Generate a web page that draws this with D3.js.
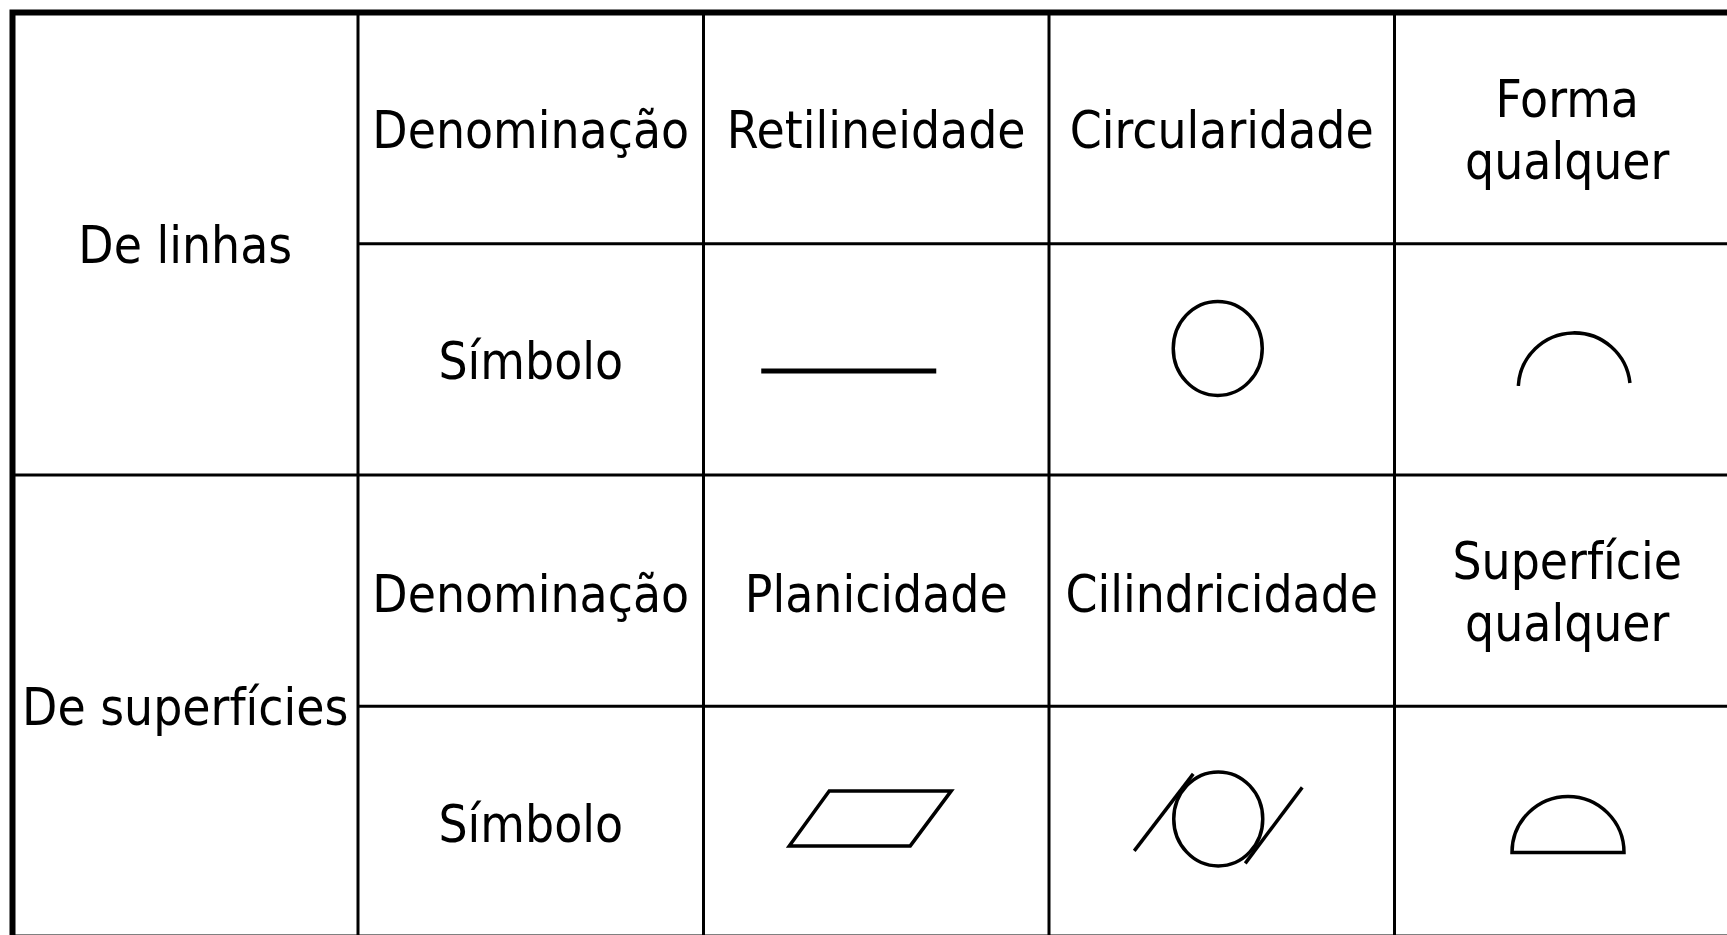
<!DOCTYPE html>
<html>
<head>
<meta charset="utf-8">
<script src="https://cdn.jsdelivr.net/npm/d3@7"></script>
<style>
  html, body { margin: 0; padding: 0; background: #fff; overflow: hidden; }
  svg { display: block; }
  text { font-family: "DejaVu Sans Condensed", "DejaVu Sans", sans-serif; font-stretch: condensed; fill: #000; }
</style>
</head>
<body>
<svg id="chart" width="1727" height="935"></svg>
<script>
// ---- data ----
const groups = ["De linhas", "De superfícies"];
const rowLabels = ["Denominação", "Símbolo"];
const namesLinhas = ["Retilineidade", "Circularidade", ["Forma", "qualquer"]];
const namesSuperficies = ["Planicidade", "Cilindricidade", ["Superfície", "qualquer"]];
const symbolsLinhas = ["retilineidade", "circularidade", "formaLinha"];
const symbolsSuperficies = ["planicidade", "cilindricidade", "formaSuperficie"];

// ---- layout ----
const W = 1727, H = 935;
const svg = d3.select("#chart");
const x = d3.scaleLinear().domain([0, 5]).range([12.5, 1740]);
const y = d3.scaleLinear().domain([0, 4]).range([12.5, 937.5]);
const cx = i => (x(i) + x(i + 1)) / 2;
const cy = j => (y(j) + y(j + 1)) / 2;
const FS = 51;
const rowDy = [19.5, 20, 21.5, 20];

svg.append("rect").attr("width", W).attr("height", H).attr("fill", "#fff");

const grid = svg.append("g").attr("stroke", "#000").attr("stroke-width", 3).attr("fill", "none");
// vertical inner lines
d3.range(1, 5).forEach(i => {
  grid.append("line").attr("x1", x(i)).attr("x2", x(i)).attr("y1", y(0)).attr("y2", y(4));
});
// horizontal inner lines
[1, 3].forEach(j => {
  grid.append("line").attr("x1", x(1)).attr("x2", x(5)).attr("y1", y(j)).attr("y2", y(j));
});
grid.append("line").attr("x1", x(0)).attr("x2", x(5)).attr("y1", y(2)).attr("y2", y(2));
// outer border
svg.append("rect").attr("x", x(0)).attr("y", y(0))
  .attr("width", x(5) - x(0)).attr("height", y(4) - y(0))
  .attr("fill", "none").attr("stroke", "#000").attr("stroke-width", 6);

const tg = svg.append("g").attr("font-size", FS).attr("text-anchor", "middle");

// group labels
groups.forEach((g, k) => {
  tg.append("text").attr("x", cx(0)).attr("y", (y(2 * k) + y(2 * k + 2)) / 2 + 19).text(g);
});
// row labels
[0, 1, 2, 3].forEach(j => {
  tg.append("text").attr("x", cx(1)).attr("y", cy(j) + rowDy[j]).text(rowLabels[j % 2]);
});
// names
[namesLinhas, namesSuperficies].forEach((arr, k) => {
  const j = 2 * k;
  arr.forEach((n, i) => {
    const t = tg.append("text").attr("x", cx(i + 2));
    if (Array.isArray(n)) {
      t.attr("y", cy(j) - 11.5);
      n.forEach((s, m) => t.append("tspan").attr("x", cx(i + 2)).attr("dy", m === 0 ? 0 : 62).text(s));
    } else {
      t.attr("y", cy(j) + rowDy[j]).text(n);
    }
  });
});

// symbols
const sg = svg.append("g").attr("fill", "none").attr("stroke", "#000").attr("stroke-width", 3.5);
const draw = {
  retilineidade: g => g.append("line").attr("x1", -115).attr("x2", 60).attr("y1", 11.5).attr("y2", 11.5).attr("stroke-width", 5),
  circularidade: g => g.append("ellipse").attr("cx", -4).attr("cy", -11).attr("rx", 44.5).attr("ry", 47),
  formaLinha: g => g.append("path").attr("transform", "translate(7,29.5)")
    .attr("d", d3.arc()({ innerRadius: 56, outerRadius: 56, startAngle: -87 * Math.PI / 180, endAngle: 84 * Math.PI / 180 })),
  planicidade: g => g.append("path").attr("d", d3.line()([[-47, -31], [75, -31], [34, 24], [-87, 24]]) + "Z"),
  cilindricidade: g => {
    g.append("ellipse").attr("cx", -3.5).attr("cy", -3).attr("rx", 44.5).attr("ry", 47);
    g.append("line").attr("x1", -87.5).attr("y1", 29).attr("x2", -28.5).attr("y2", -48);
    g.append("line").attr("x1", 23.5).attr("y1", 41.5).attr("x2", 80.5).attr("y2", -34.5);
  },
  formaSuperficie: g => {
    const p = d3.path();
    p.moveTo(-56, 0);
    p.arc(0, 0, 56, Math.PI, 2 * Math.PI);
    p.closePath();
    g.append("path").attr("transform", "translate(0.75,30.6)").attr("d", p.toString());
  }
};
[symbolsLinhas, symbolsSuperficies].forEach((arr, k) => {
  const j = 2 * k + 1;
  arr.forEach((s, i) => {
    const g = sg.append("g").attr("transform", `translate(${cx(i + 2)},${cy(j)})`);
    draw[s](g);
  });
});
</script>
</body>
</html>
